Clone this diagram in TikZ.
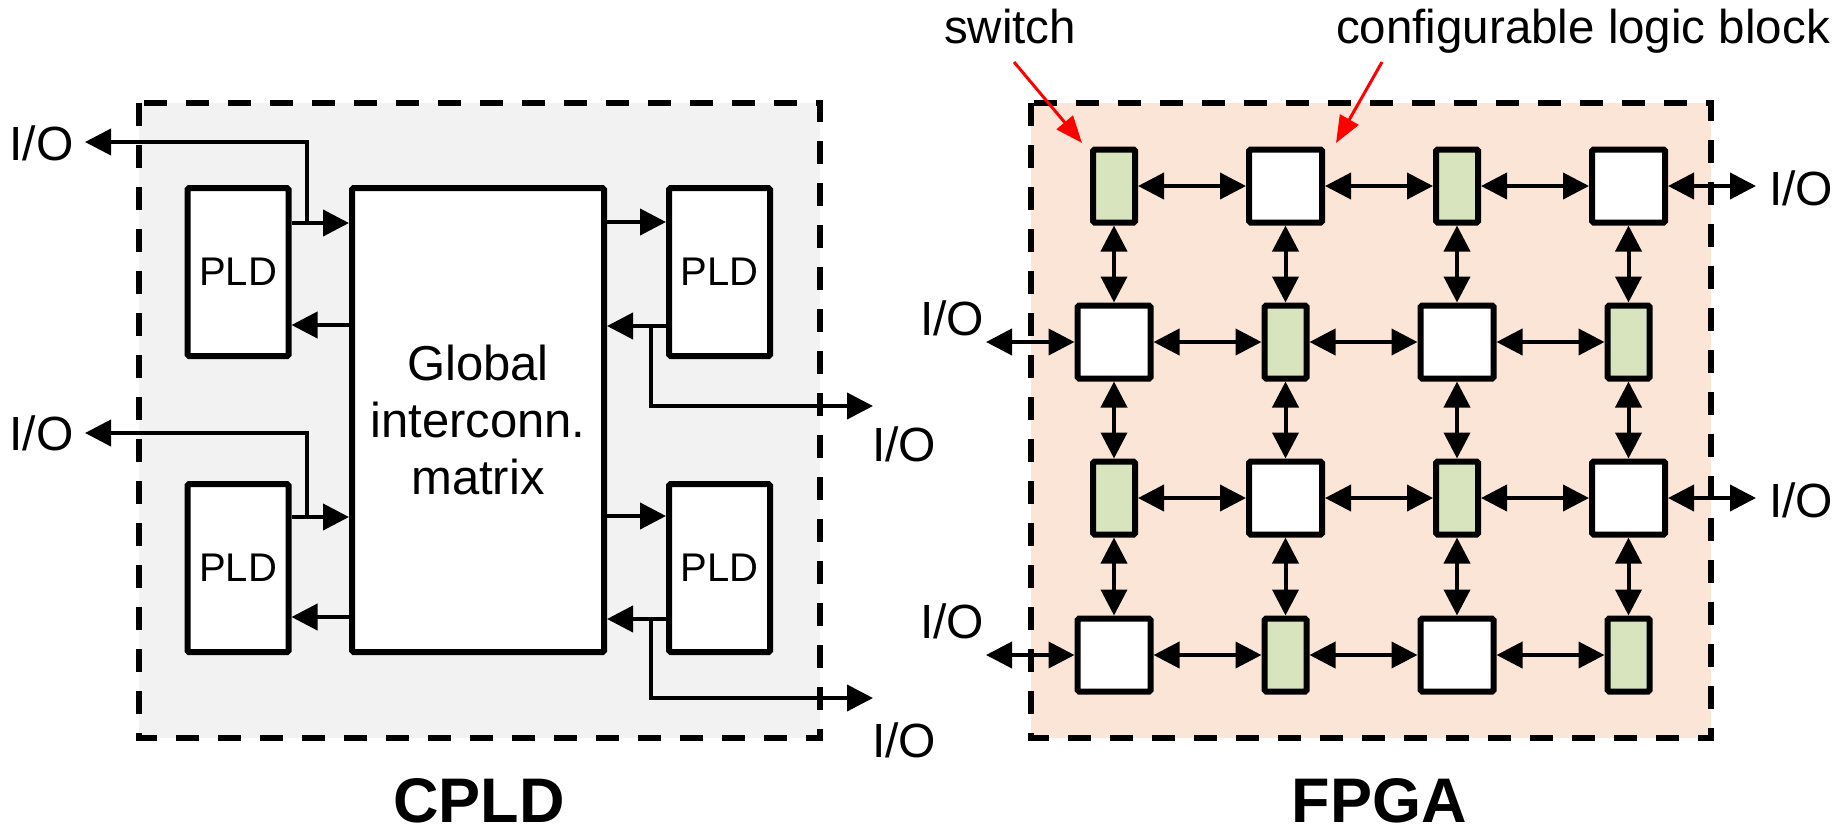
\documentclass[tikz,border=0pt]{standalone}
\usepackage{fontspec}
\setmainfont{Liberation Sans}
\usetikzlibrary{arrows.meta}
\definecolor{cpldbg}{HTML}{F2F2F2}
\definecolor{fpgabg}{HTML}{FBE5D6}
\definecolor{swgreen}{HTML}{D7E4BD}
\begin{document}
\begin{tikzpicture}[x=1pt,y=-1pt,
  frame/.style={line width=6.5pt, dash pattern=on 23pt off 19pt},
  blk/.style={draw, line width=6pt, fill=white, inner sep=0pt, rounded corners=1.5pt},
  pld/.style={blk, minimum width=101pt, minimum height=168pt, font=\fontsize{40}{44}\selectfont},
  clb/.style={blk, minimum width=73pt, minimum height=73pt},
  sw/.style={blk, fill=swgreen, minimum width=42pt, minimum height=73pt},
  con/.style={line width=4pt, -{Triangle[length=26pt,width=26pt]}},
  bicon/.style={line width=4pt, {Triangle[length=26pt,width=26pt]}-{Triangle[length=26pt,width=26pt]}},
  lbl/.style={font=\fontsize{48}{52}\selectfont, inner sep=0pt, anchor=base},
  ann/.style={font=\fontsize{47.5}{52}\selectfont, inner sep=0pt, anchor=base},
  ttl/.style={font=\fontsize{63}{66}\selectfont\bfseries, inner sep=0pt, anchor=base},
  redarr/.style={red, line width=3pt, -{Triangle[length=27pt,width=21pt]}}
]
\useasboundingbox (0,0) rectangle (1845,828);

% ---------------- CPLD ----------------
\draw[frame, fill=cpldbg] (139,103) rectangle (820,738);

\node[blk, minimum width=252pt, minimum height=464pt, align=center,
      font=\fontsize{49}{57}\selectfont] (gim) at (478,420) {Global\\interconn.\\matrix};

\node[pld] (pld1) at (238,272) {PLD};
\node[pld] (pld2) at (238,568) {PLD};
\node[pld] (pld3) at (719.5,272) {PLD};
\node[pld] (pld4) at (719.5,568) {PLD};

\node[lbl] (ioa) at (41.5,160) {I/O};
\node[lbl] (iob) at (41.5,450) {I/O};
\node[lbl] (ioc) at (904,461) {I/O};
\node[lbl] (iod) at (904,757) {I/O};

\coordinate (ta) at (85,142);
\coordinate (tb) at (85,433);
\coordinate (tc) at (873,406);
\coordinate (td) at (873,698);

% upper left PLD
\draw[con] (pld1.east |- 0,223) -- (gim.west |- 0,223);
\draw[con] (307,223) |- (ta);
\draw[con] (gim.west |- 0,325) -- (pld1.east |- 0,325);
% lower left PLD
\draw[con] (pld2.east |- 0,517) -- (gim.west |- 0,517);
\draw[con] (307,517) |- (tb);
\draw[con] (gim.west |- 0,617) -- (pld2.east |- 0,617);
% upper right PLD
\draw[con] (gim.east |- 0,222) -- (pld3.west |- 0,222);
\draw[con] (pld3.west |- 0,326) -- (gim.east |- 0,326);
\draw[con] (651,326) |- (tc);
% lower right PLD
\draw[con] (gim.east |- 0,516) -- (pld4.west |- 0,516);
\draw[con] (pld4.west |- 0,619) -- (gim.east |- 0,619);
\draw[con] (651,619) |- (td);

\node[ttl] (cpld) at (479,822) {CPLD};

% ---------------- FPGA ----------------
\draw[frame, fill=fpgabg] (1031,103) rectangle (1711,738);

\foreach \r/\y in {1/186,2/342,3/498,4/655} {
  \foreach \c/\x in {1/1114,2/1285.5,3/1457,4/1628.5} {
    \ifodd\numexpr\r+\c\relax
      \node[clb] (n\r\c) at (\x,\y) {};
    \else
      \node[sw] (n\r\c) at (\x,\y) {};
    \fi
  }
}

\foreach \r in {1,2,3,4} {
  \foreach \c/\d in {1/2,2/3,3/4} {
    \draw[bicon] (n\r\c.east) -- (n\r\d.west);
  }
}
\foreach \c in {1,2,3,4} {
  \foreach \r/\s in {1/2,2/3,3/4} {
    \draw[bicon] (n\r\c.south) -- (n\s\c.north);
  }
}

% I/O of the FPGA
\node[lbl] (io1) at (1801,205) {I/O};
\node[lbl] (io3) at (1801,517) {I/O};
\node[lbl] (io2) at (952,335) {I/O};
\node[lbl] (io4) at (952,638) {I/O};
\coordinate (e1) at (1756,186);
\coordinate (e3) at (1756,498);
\coordinate (e2) at (986,342);
\coordinate (e4) at (986,655);
\draw[bicon] (n14.east) -- (e1);
\draw[bicon] (n34.east) -- (e3);
\draw[bicon] (e2) -- (n21.west);
\draw[bicon] (e4) -- (n41.west);

% annotations
\node[ann] (swl) at (1010,43) {switch};
\node[ann] (clbl) at (1583,43) {configurable logic block};
\coordinate (sa) at (1014,62);
\coordinate (sb) at (1082,143);
\coordinate (ca) at (1382,62);
\coordinate (cb) at (1336,143);
\draw[redarr] (sa) -- (sb);
\draw[redarr] (ca) -- (cb);

\node[ttl] (fpga) at (1379,822) {FPGA};
\end{tikzpicture}
\end{document}
